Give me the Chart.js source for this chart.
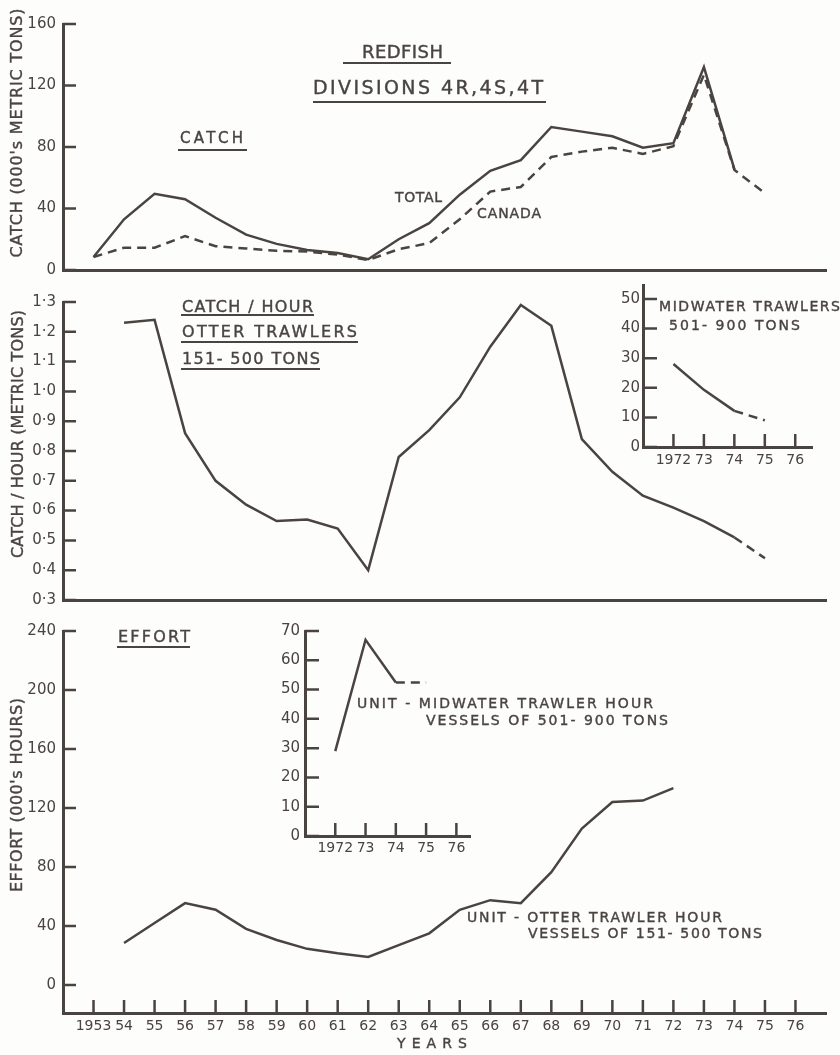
<!DOCTYPE html>
<html>
<head>
<meta charset="utf-8">
<script src="https://cdn.jsdelivr.net/npm/chart.js@4"></script>
<style>
body { margin: 0; background: #fdfdfb; }
#page { position: relative; width: 840px; height: 1055px; overflow: hidden; font-family: "DejaVu Sans"; color: #4a4441; }
canvas { position: absolute; }
.note { position: absolute; width: 0; height: 0; transform-origin: 0 0; }
.note span { position: absolute; white-space: pre; line-height: 1; -webkit-text-stroke: 0.4px #4a4441; }
.rule { position: absolute; height: 2px; background: #4a4441; }
</style>
</head>
<body>
<div id="page">
  <canvas id="catchChart" width="840" height="290" style="left:0;top:0"></canvas>
  <canvas id="cphChart" width="840" height="340" style="left:0;top:280px"></canvas>
  <canvas id="effortChart" width="840" height="445" style="left:0;top:610px"></canvas>
  <canvas id="cphInset" width="240" height="200" style="left:600px;top:270px"></canvas>
  <canvas id="effortInset" width="230" height="245" style="left:260px;top:615px"></canvas>
</div>
<script>
// catch (000's t), 1953-1975
const catchYears = [1953,1954,1955,1956,1957,1958,1959,1960,1961,1962,1963,1964,1965,1966,1967,1968,1969,1970,1971,1972,1973,1974,1975];
const catchTotal = [8.5,33,49.5,46,34,23,17,13,11,7,20,30.5,49,64.5,71.5,93,90,87,79.5,82.5,132,65.5];
const catchCanada = [8.5,14.5,14.5,22,15.5,14,12.5,12,10,6.5,13.5,17.5,33,51,54,73.5,77,79.5,75.5,80.5,127,65,50];

// catch per hour, otter trawlers 151-500 t
const cphYears = [1954,1955,1956,1957,1958,1959,1960,1961,1962,1963,1964,1965,1966,1967,1968,1969,1970,1971,1972,1973,1974,1975];
const cphOtter = [1.23,1.24,0.86,0.70,0.62,0.565,0.57,0.54,0.40,0.78,0.87,0.98,1.15,1.29,1.22,0.84,0.73,0.65,0.61,0.565,0.51,0.44];

// effort (000's hours), otter trawlers
const effortYears = [1954,1955,1956,1957,1958,1959,1960,1961,1962,1963,1964,1965,1966,1967,1968,1969,1970,1971,1972];
const effortOtter = [28.5,42,55.5,51,38,30.5,24.5,21.5,19,27,35,51,57.5,55.5,76.5,106,124,125,133.5];

// midwater trawlers 501-900 t (insets)
const insetYears = [1972,1973,1974,1975];
const cphMidwater = [28,19.3,12.2,9];
const effortMidwater = [29,67,52.4,52.4];
const dashFrom = 1974;

// ticks
const yearTicks = [1953,1954,1955,1956,1957,1958,1959,1960,1961,1962,1963,1964,1965,1966,1967,1968,1969,1970,1971,1972,1973,1974,1975,1976];
const yearLabels = ['1953','54','55','56','57','58','59','60','61','62','63','64','65','66','67','68','69','70','71','72','73','74','75','76'];
const insetTicks = [1972,1973,1974,1975,1976];
const insetLabels = ['1972','73','74','75','76'];
const catchTicks = [0,40,80,120,160];
const cphTicks = [0.3,0.4,0.5,0.6,0.7,0.8,0.9,1.0,1.1,1.2,1.3];
const cphLabels = ['0·3','0·4','0·5','0·6','0·7','0·8','0·9','1·0','1·1','1·2','1·3'];
const effortTicks = [0,40,80,120,160,200,240];
const insetCphTicks = [0,10,20,30,40,50];
const insetEffortTicks = [0,10,20,30,40,50,60,70];

const ink = '#4a4441';
const font = 'DejaVu Sans';

// tick marks drawn on the inside of the axes
const inTicks = {
  id: 'inTicks',
  afterDraw(chart, args, o) {
    const {ctx, chartArea: a, scales} = chart;
    ctx.save();
    ctx.strokeStyle = ink;
    ctx.lineWidth = 2.5;
    ctx.beginPath();
    if (o.y) scales.y.ticks.forEach(t => {
      const p = scales.y.getPixelForValue(t.value);
      ctx.moveTo(a.left, p); ctx.lineTo(a.left + o.y, p);
    });
    if (o.x) scales.x.ticks.forEach(t => {
      const p = scales.x.getPixelForValue(t.value);
      ctx.moveTo(p, a.bottom); ctx.lineTo(p, a.bottom - o.x);
    });
    ctx.stroke();
    ctx.restore();
  }
};

function pts(xs, ys) {
  return ys.map((v, i) => ({x: xs[i], y: v}));
}

function axis(min, max, values, labels, size, pad, fit) {
  return {
    type: 'linear', min: min, max: max,
    afterBuildTicks: s => { s.ticks = values.map(v => ({value: v})); },
    afterFit: s => { if (s.isHorizontal()) s.height = fit; else s.width = fit; },
    grid: {display: false, drawTicks: false},
    border: {display: true, color: ink, width: 3},
    ticks: {
      display: labels !== null, padding: pad, color: ink,
      autoSkip: false, maxRotation: 0, minRotation: 0,
      font: {family: font, size: size},
      callback: (v, i) => labels ? labels[i] : ''
    }
  };
}

const solid = {borderColor: ink, borderWidth: 2.5, pointRadius: 0, fill: false, tension: 0};
const dashTail = {borderDash: c => c.p0.parsed.x >= dashFrom ? [9, 6] : undefined};

function lineChart(id, datasets, x, y, padding, ticks) {
  return new Chart(document.getElementById(id), {
    type: 'line',
    data: {datasets: datasets},
    options: {
      responsive: false, animation: false, events: [],
      layout: {padding: padding},
      plugins: {legend: {display: false}, tooltip: {enabled: false}, inTicks: ticks},
      scales: {x: x, y: y}
    },
    plugins: [inTicks]
  });
}

lineChart('catchChart', [
    Object.assign({data: pts(catchYears, catchTotal)}, solid),
    Object.assign({data: pts(catchYears, catchCanada), borderDash: [9, 6]}, solid)
  ],
  axis(1952, 1977, yearTicks, null, 14, 0, 0),
  axis(0, 160, catchTicks, catchTicks.map(String), 15, 7, 63),
  {left: 0, top: 24, right: 14, bottom: 20}, {y: 13});

lineChart('cphChart', [
    Object.assign({data: pts(cphYears, cphOtter), segment: dashTail}, solid)
  ],
  axis(1952, 1977, yearTicks, null, 14, 0, 0),
  axis(0.3, 1.3, cphTicks, cphLabels, 15, 7, 63),
  {left: 0, top: 22, right: 14, bottom: 20}, {y: 13});

lineChart('effortChart', [
    Object.assign({data: pts(effortYears, effortOtter)}, solid)
  ],
  axis(1952, 1977, yearTicks, yearLabels, 14, 5, 42),
  axis(-19, 240, effortTicks, effortTicks.map(String), 15, 7, 63),
  {left: 0, top: 21, right: 14, bottom: 0}, {x: 13, y: 13});

lineChart('cphInset', [
    Object.assign({data: pts(insetYears, cphMidwater), segment: dashTail}, solid)
  ],
  axis(1971, 1976.55, insetTicks, insetLabels, 14, 5, 23),
  axis(0, 54.7, insetCphTicks, insetCphTicks.map(String), 15, 3, 43),
  {left: 0, top: 15, right: 28, bottom: 0}, {x: 13, y: 14});

lineChart('effortInset', [
    Object.assign({data: pts(insetYears, effortMidwater), segment: dashTail}, solid)
  ],
  axis(1971, 1976.45, insetTicks, insetLabels, 14, 4, 24),
  axis(0, 70, insetEffortTicks, insetEffortTicks.map(String), 15, 5, 45),
  {left: 0, top: 16, right: 20, bottom: 0}, {x: 13, y: 14});

// lettering: text, from, to, centre line, size, rotated
const notes = [
  ['REDFISH', 362, 443, 52, 18],
  ['DIVISIONS 4R,4S,4T', 313, 543, 87, 19],
  ['CATCH', 180, 243, 138, 15],
  ['TOTAL', 395, 442, 197, 14],
  ['CANADA', 477, 541, 213, 14],
  ['CATCH / HOUR', 182, 313, 307, 16],
  ['OTTER TRAWLERS', 182, 357, 332, 16],
  ['151- 500 TONS', 182, 320, 359, 16],
  ['MIDWATER TRAWLERS', 659, 840, 306, 14],
  ['501- 900 TONS', 669, 800, 325, 14],
  ['EFFORT', 118, 190, 637, 16],
  ['UNIT - MIDWATER TRAWLER HOUR', 357, 653, 703, 14],
  ['VESSELS OF 501- 900 TONS', 426, 668, 720, 14],
  ['UNIT - OTTER TRAWLER HOUR', 467, 722, 917, 14],
  ['VESSELS OF 151- 500 TONS', 528, 762, 933, 14],
  ['YEARS', 397, 467, 1043, 14],
  ["CATCH (000's METRIC TONS)", 8, 257, 17, 16, true],
  ['CATCH / HOUR (METRIC TONS)', 310, 558, 18, 16, true],
  ["EFFORT (000's HOURS)", 698, 892, 17, 16, true]
];
const underlines = [[343, 451, 63], [313, 546, 102], [178, 247, 150], [181, 314, 315],
  [181, 358, 342], [181, 320, 369], [117, 190, 647]];

const page = document.getElementById('page');
const meas = document.createElement('canvas').getContext('2d');
notes.forEach(([t, a, b, c, size, rot]) => {
  meas.font = size + 'px "' + font + '"';
  const w = b - a;
  const ls = (w - meas.measureText(t).width) / (t.length - 1);
  const box = document.createElement('div');
  box.className = 'note';
  const span = document.createElement('span');
  span.textContent = t;
  span.style.fontSize = size + 'px';
  span.style.letterSpacing = ls + 'px';
  span.style.left = (-w / 2) + 'px';
  span.style.top = (-0.48 * size) + 'px';
  box.appendChild(span);
  if (rot) {
    box.style.left = c + 'px';
    box.style.top = ((a + b) / 2) + 'px';
    box.style.transform = 'rotate(-90deg)';
  } else {
    box.style.left = ((a + b) / 2) + 'px';
    box.style.top = c + 'px';
  }
  page.appendChild(box);
});
underlines.forEach(([a, b, y]) => {
  const r = document.createElement('div');
  r.className = 'rule';
  r.style.left = a + 'px';
  r.style.width = (b - a) + 'px';
  r.style.top = (y - 1) + 'px';
  page.appendChild(r);
});
</script>
</body>
</html>
